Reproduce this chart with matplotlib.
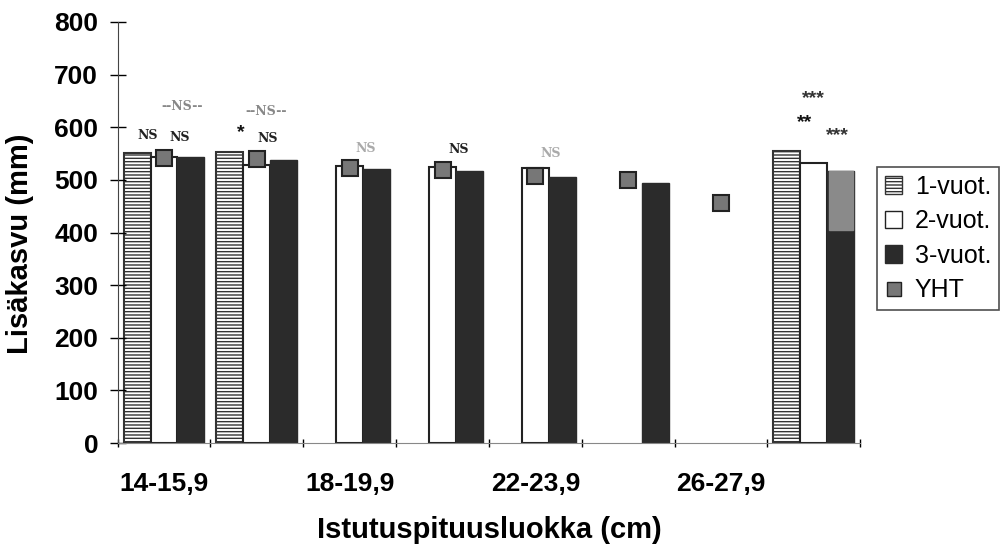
import numpy as np
import matplotlib
matplotlib.use("Agg")
import matplotlib.pyplot as plt
from matplotlib.patches import Patch
from matplotlib.lines import Line2D

plt.rcParams['font.family'] = ['Liberation Sans', 'DejaVu Sans']
plt.rcParams['hatch.linewidth'] = 1.0

classes = ["14-15,9", "16-17,9", "18-19,9", "20-21,9", "22-23,9", "24-25,9", "26-27,9", "28-"]
v1 = [551, 553, np.nan, np.nan, np.nan, np.nan, np.nan, 555]
v2 = [543, 528, 527, 525, 523, np.nan, np.nan, 532]
v3 = [544, 538, 521, 517, 506, 494, np.nan, 517]
yht = [542, 540, 523, 518, 508, 500, 456, np.nan]
last_shade = [405, 517]

# significance labels: (category, y, text, color)
notes = [(0, 585, "NS", "#222222"), (0, 640, "--NS--", "#888888"), (0, 580, "NS", "#222222"),
         (1, 590, "*", "#111111"), (1, 630, "--NS--", "#888888"), (1, 578, "NS", "#222222"),
         (2, 560, "NS", "#aaaaaa"), (3, 557, "NS", "#222222"), (4, 550, "NS", "#aaaaaa"),
         (7, 655, "***", "#333333"), (7, 608, "**", "#111111"), (7, 585, "***", "#333333")]
note_dx = [-0.18, 0.2, 0.17, -0.17, 0.1, 0.12, 0.17, 0.17, 0.17, 0.0, -0.1, 0.25]

x = np.arange(len(classes))
w = 0.29

fig = plt.figure(figsize=(10.05, 5.49), dpi=100)
ax = fig.add_axes([0.117, 0.193, 0.739, 0.767])

ax.bar(x - w, v1, w, color="white", edgecolor="#333333", hatch="-----", linewidth=1.5)
ax.bar(x, v2, w, color="white", edgecolor="#222222", linewidth=1.5)
ax.bar(x + w, v3, w, color="#2b2b2b", edgecolor="#2b2b2b", linewidth=1)
ax.bar(x[-1] + w, last_shade[1] - last_shade[0], w * 0.9, bottom=last_shade[0],
       color="#8a8a8a", edgecolor="#8a8a8a")
ax.plot(x, yht, linestyle="none", marker="s", markersize=11, markerfacecolor="#777777",
        markeredgecolor="#222222", markeredgewidth=1.5)

for (c, y, t, col), dx in zip(notes, note_dx):
    if "*" in t:
        ax.text(c + dx, y, t, ha="center", va="center", fontsize=14, color=col,
                fontweight="bold")
    else:
        ax.text(c + dx, y, t, ha="center", va="center", fontsize=9, color=col,
                family="DejaVu Serif", fontweight="bold")

ax.set_xlim(-0.5, 7.5)
ax.set_ylim(0, 800)
ax.set_yticks(range(0, 801, 100))
ax.set_xticks(x[::2])
ax.set_xticklabels(classes[::2])
ax.set_xticks(np.arange(-0.5, 8, 1), minor=True)
ax.tick_params(axis="x", which="major", length=0, pad=21, labelsize=19)
ax.tick_params(axis="x", which="minor", length=6, direction="inout", width=1)
ax.tick_params(axis="y", length=12, direction="inout", width=1, labelsize=19, pad=8)
for lab in ax.get_xticklabels() + ax.get_yticklabels():
    lab.set_fontweight("bold")
ax.spines["top"].set_visible(False)
ax.spines["right"].set_visible(False)
ax.spines["left"].set_color("#444444")
ax.spines["bottom"].set_color("#888888")

ax.set_ylabel("Lisäkasvu (mm)", fontsize=21, fontweight="bold")
ax.yaxis.set_label_coords(-0.112, 0.473)
ax.set_xlabel("Istutuspituusluokka (cm)", fontsize=21, fontweight="bold", labelpad=14)

handles = [Patch(facecolor="white", edgecolor="#333333", hatch="-----", label="1-vuot."),
           Patch(facecolor="white", edgecolor="#222222", label="2-vuot."),
           Patch(facecolor="#2b2b2b", edgecolor="#2b2b2b", label="3-vuot."),
           Line2D([], [], linestyle="none", marker="s", markersize=10, markerfacecolor="#777777",
                  markeredgecolor="#222222", label="YHT")]
leg = fig.legend(handles=handles, loc="upper left", bbox_to_anchor=(0.873, 0.695),
                 fontsize=18, frameon=True, fancybox=False, edgecolor="#222222",
                 handlelength=0.7, handleheight=0.7, handletextpad=0.5, labelspacing=0.42,
                 borderpad=0.3, borderaxespad=0)
leg.get_frame().set_linewidth(1.2)

fig.savefig("out.png", dpi=100)
